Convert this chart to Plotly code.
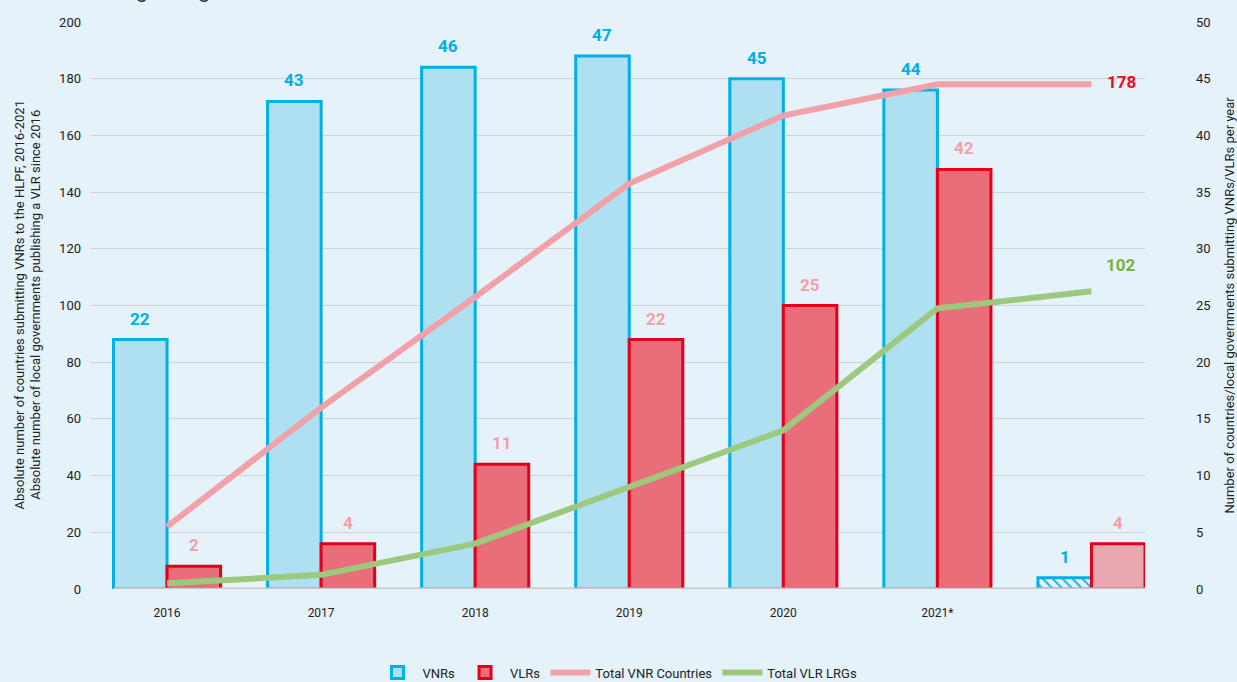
import plotly.graph_objects as go

# ---------------- data ----------------
categories = ["2016", "2017", "2018", "2019", "2020", "2021*", ""]
vnr_per_year = [22, 43, 46, 47, 45, 44, 1]
vlr_per_year = [2, 4, 11, 22, 25, 37, 4]
vnr_labels = ["22", "43", "46", "47", "45", "44", "1"]
vlr_labels = ["2", "4", "11", "22", "25", "42", "4"]
total_vnr_countries = [22, 64, 103, 143, 167, 178, 178]
total_vlr_lrgs = [2, 5, 16, 36, 56, 99, 105]
end_label_vnr = "178"
end_label_vlr = "102"

# ---------------- styles ----------------
BG = "#e6f2f9"
VNR_FILL = "#aee0f2"
VNR_LINE = "#00b0e6"
VLR_FILL = "#e96e79"
VLR_LINE = "#e3001b"
VLR_LIGHT = "#e9a8b0"
PINK = "#f2a1a8"
GREEN = "#9dc97e"
FONT = "Roboto"

idx = list(range(len(categories)))
bw = 0.3475

vnr_colors = [VNR_FILL] * (len(idx) - 1) + [VNR_LINE]
vnr_shapes = [""] * (len(idx) - 1) + ["\\"]
vlr_colors = [VLR_FILL] * (len(idx) - 1) + [VLR_LIGHT]

fig = go.Figure()

# bars on the (right-side) per-year axis "y"
fig.add_trace(go.Bar(
    x=idx, y=vnr_per_year, width=bw, offset=-bw, name="VNRs", yaxis="y",
    marker=dict(color=vnr_colors, line=dict(color=VNR_LINE, width=3),
                pattern=dict(shape=vnr_shapes, size=7, solidity=0.25, fillmode="replace")),
    hoverinfo="skip",
))
fig.add_trace(go.Bar(
    x=idx, y=vlr_per_year, width=bw, offset=0, name="VLRs", yaxis="y",
    marker=dict(color=vlr_colors, line=dict(color=VLR_LINE, width=3)),
    hoverinfo="skip",
))
# cumulative lines on the (left-side) overlay axis "y2"
fig.add_trace(go.Scatter(
    x=idx, y=total_vnr_countries, mode="lines", name="Total VNR Countries",
    line=dict(color=PINK, width=6), yaxis="y2",
))
fig.add_trace(go.Scatter(
    x=idx, y=total_vlr_lrgs, mode="lines", name="Total VLR LRGs",
    line=dict(color=GREEN, width=6), yaxis="y2",
))

annotations = []
for i in idx:
    annotations.append(dict(x=i - bw / 2, y=vnr_per_year[i], xref="x", yref="y",
                            text="<b>%s</b>" % vnr_labels[i], showarrow=False,
                            yanchor="middle", yshift=21,
                            font=dict(family=FONT, size=17, color="#00aee6")))
    annotations.append(dict(x=i + bw / 2, y=vlr_per_year[i], xref="x", yref="y",
                            text="<b>%s</b>" % vlr_labels[i], showarrow=False,
                            yanchor="middle", yshift=21,
                            font=dict(family=FONT, size=17, color="#f2a0a8")))

last = idx[-1]
annotations.append(dict(x=last, y=total_vnr_countries[-1], xref="x", yref="y2",
                        text="<b>%s</b>" % end_label_vnr, showarrow=False,
                        xshift=30, yshift=2,
                        font=dict(family=FONT, size=17, color="#e0101f")))
annotations.append(dict(x=last, y=total_vlr_lrgs[-1], xref="x", yref="y2",
                        text="<b>%s</b>" % end_label_vlr, showarrow=False,
                        xshift=30, yshift=26,
                        font=dict(family=FONT, size=17, color="#78b03c")))

# axis titles
annotations.append(dict(
    x=(27 - 90) / 1055, y=0.5, xref="paper", yref="paper", textangle=-90, showarrow=False,
    xanchor="center", yanchor="middle",
    text="Absolute number of countries submitting VNRs to the HLPF, 2016-2021<br>"
         "Absolute number of local governments publishing a VLR since 2016",
    font=dict(family=FONT, size=13, color="#222"), align="center"))
annotations.append(dict(
    x=(1229 - 90) / 1055, y=0.5, xref="paper", yref="paper", textangle=-90, showarrow=False,
    xanchor="center", yanchor="middle",
    text="Number of countries/local governments submitting VNRs/VLRs per year",
    font=dict(family=FONT, size=13, color="#222")))
# cut-off heading at the very top (only its lower edge shows, as in the source)
annotations.append(dict(
    x=(27 - 90) / 1055, y=1.031, xref="paper", yref="paper", xanchor="left", yanchor="bottom",
    showarrow=False, borderpad=0,
    text="local and regional governments",
    font=dict(family=FONT, size=21, color="#333")))

fig.update_layout(
    width=1237, height=682,
    paper_bgcolor=BG, plot_bgcolor=BG,
    margin=dict(l=90, r=92, t=22, b=93, autoexpand=False),
    font=dict(family=FONT, size=13, color="#222"),
    barmode="overlay",
    showlegend=True,
    legend=dict(orientation="h", x=0.5, xanchor="center", xref="paper",
                y=-0.121, yanchor="top", yref="paper",
                font=dict(family=FONT, size=13, color="#222"), bgcolor="rgba(0,0,0,0)",
                traceorder="normal", itemwidth=40),
    xaxis=dict(range=[-0.5, 6.3475], tickmode="array", tickvals=idx[:-1],
               ticktext=categories[:-1], showgrid=False, zeroline=False,
               showline=False, ticks="", tickfont=dict(size=12, color="#222"),
               ticklabelstandoff=15),
    yaxis=dict(range=[0, 50], dtick=5, side="right", showgrid=True, gridcolor="#d2d2d2",
               gridwidth=1.3, zeroline=False, showline=False, ticks="",
               tickfont=dict(size=13, color="#222"), ticklabelstandoff=50),
    yaxis2=dict(range=[0, 200], dtick=20, overlaying="y", side="left", showgrid=False,
                zeroline=False, showline=False, ticks="",
                tickfont=dict(size=13, color="#222"), ticklabelstandoff=8),
    annotations=annotations,
    shapes=[dict(type="line", xref="x", yref="y", x0=-bw, x1=idx[-1] + bw, y0=0, y1=0,
                 line=dict(color="#c8c8c8", width=3), layer="above")],
)

fig.write_html("out.html", config={"displayModeBar": False},
               post_script="document.body.style.margin='0';")
